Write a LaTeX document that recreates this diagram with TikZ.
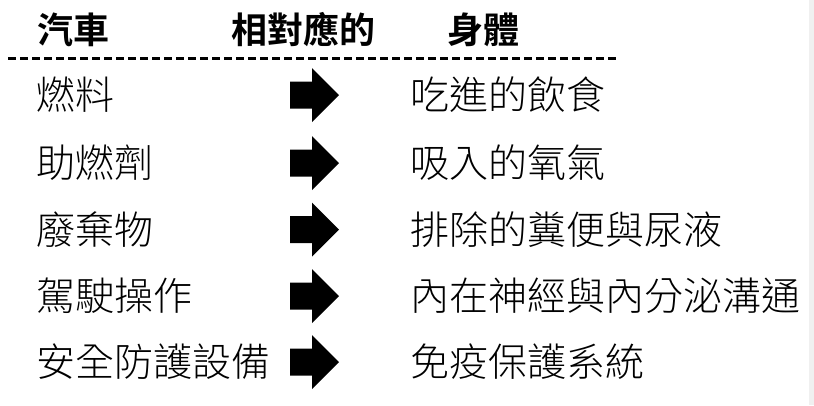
\documentclass[tikz,border=0pt]{standalone}
\usepackage{fontspec}
\setmainfont{Noto Sans CJK TC Light}[BoldFont=Noto Sans CJK TC Bold]
\tikzset{
  hdr/.style={anchor=west,inner sep=0pt,font=\fontsize{36}{38}\selectfont\bfseries},
  txt/.style={anchor=west,inner sep=0pt,font=\fontsize{39}{41}\selectfont},
  blockarrow/.style={fill=black,draw=none}
}
\begin{document}
\begin{tikzpicture}[x=1pt,y=-1pt]
\useasboundingbox (0,0) rectangle (814,405);
\fill[white] (0,0) rectangle (814,405);
\fill[black!6] (809,0) rectangle (814,405);
\node[hdr] (h1) at (37,30) {汽車};
\node[hdr] (h2) at (231,30) {相對應的};
\node[hdr] (h3) at (447,30) {身體};
\coordinate (d1) at (8,58);
\coordinate (d2) at (617,58);
\draw[line width=3pt,dash pattern=on 8pt off 4pt] (d1) -- (d2);
\foreach \i/\l/\r/\y in {1/燃料/吃進的飲食/95, 2/助燃劑/吸入的氧氣/163, 3/廢棄物/排除的糞便與尿液/229.5, 4/駕駛操作/內在神經與內分泌溝通/296, 5/安全防護設備/免疫保護系統/362}{
  \node[txt] (l\i) at (36,\y) {\l};
  \node[txt] (r\i) at (410,\y) {\r};
  \coordinate (a\i) at (290,\y);
  \fill[blockarrow] (a\i) ++(0,-13.5) -- ++(22,0) -- ++(0,-13.5) -- ++(27,27) -- ++(-27,27) -- ++(0,-13.5) -- ++(-22,0) -- cycle;
}
\end{tikzpicture}
\end{document}
